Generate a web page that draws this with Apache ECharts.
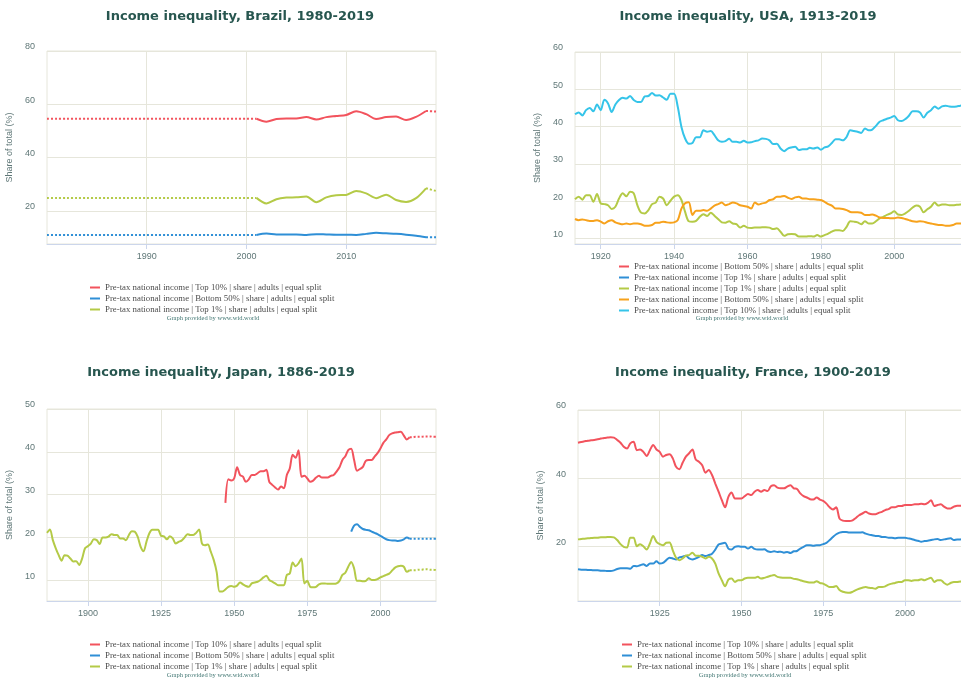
<!DOCTYPE html>
<html>
<head>
<meta charset="utf-8">
<title>Income inequality</title>
<script src="https://cdn.jsdelivr.net/npm/echarts@6/dist/echarts.min.js"></script>
<style>
  body { margin: 0; background: #fff; }
  .panel { position: absolute; width: 480px; height: 340px; }
</style>
</head>
<body>
<div id="brazil" class="panel" style="left:0;top:0;"></div>
<div id="usa" class="panel" style="left:480px;top:0;width:481px;"></div>
<div id="japan" class="panel" style="left:0;top:340px;"></div>
<div id="france" class="panel" style="left:480px;top:340px;width:481px;"></div>
<script>
// share of pre-tax national income (%), one value per year from *Start

const TOP10 = 'Pre-tax national income | Top 10% | share | adults | equal split';
const BOTTOM50 = 'Pre-tax national income | Bottom 50% | share | adults | equal split';
const TOP1 = 'Pre-tax national income | Top 1% | share | adults | equal split';
const CREDIT = 'Graph provided by www.wid.world';

// Brazil 1980-2019 (solid 2001-2018, dotted outside)
const brazilStart = 1980;
const brazilTop10 = [
  54.6, 54.6, 54.6, 54.6, 54.6, 54.6, 54.6, 54.6, 54.6, 54.6,
  54.6, 54.6, 54.6, 54.6, 54.6, 54.6, 54.6, 54.6, 54.6, 54.6,
  54.6, 54.6, 53.5, 54.5, 54.7, 54.7, 55.2, 54.3, 55.2, 55.6,
  56.0, 57.4, 56.3, 54.5, 55.2, 55.4, 54.1, 55.3, 57.5, 57.3
];
const brazilBottom50 = [
  11.0, 11.0, 11.0, 11.0, 11.0, 11.0, 11.0, 11.0, 11.0, 11.0,
  11.0, 11.0, 11.0, 11.0, 11.0, 11.0, 11.0, 11.0, 11.0, 11.0,
  11.0, 11.0, 11.5, 11.2, 11.2, 11.2, 11.0, 11.3, 11.2, 11.1,
  11.1, 11.0, 11.4, 11.8, 11.6, 11.4, 11.1, 10.7, 10.1, 10.1
];
const brazilTop1 = [
  24.9, 24.9, 24.9, 24.9, 24.9, 24.9, 24.9, 24.9, 24.9, 24.9,
  24.9, 24.9, 24.9, 24.9, 24.9, 24.9, 24.9, 24.9, 24.9, 24.9,
  24.9, 24.9, 22.8, 24.4, 25.0, 25.1, 25.4, 23.3, 25.1, 25.9,
  26.0, 27.5, 26.6, 24.8, 26.1, 24.1, 23.4, 24.8, 28.5, 27.5
];

// USA 1913-2019
const usaStart = 1913;
const usaTop10 = [
  43.3, 43.8, 43.0, 44.4, 45.0, 44.1, 45.9,
  44.4, 47.2, 46.2, 43.9, 45.9, 47.1, 47.7, 47.5, 48.2, 47.1,
  46.6, 46.6, 48.1, 48.2, 49.0, 48.3, 48.4, 47.8, 47.2, 48.8,
  48.8, 45.3, 39.9, 36.8, 35.4, 35.6, 37.1, 37.1, 39.0, 38.6,
  38.8, 37.7, 36.3, 35.9, 36.1, 36.7, 35.9, 35.9, 35.7, 36.2,
  35.7, 35.8, 36.1, 36.3, 36.8, 36.7, 36.3, 35.3, 35.4, 34.1,
  33.4, 34.1, 34.4, 34.6, 33.7, 33.9, 33.9, 34.3, 34.1, 34.4,
  33.8, 34.4, 34.7, 35.6, 36.6, 36.6, 36.3, 37.2, 39.0, 38.8,
  38.6, 38.3, 39.5, 39.0, 39.2, 40.2, 41.3, 41.7, 42.1, 42.4,
  42.8, 41.7, 41.5, 42.0, 42.9, 44.1, 44.1, 43.8, 42.4, 43.7,
  44.4, 45.4, 44.8, 45.4, 45.6, 45.4, 45.3, 45.4, 45.6, 45.7
];
const usaTop1 = [
  20.5, 21.2, 20.4, 21.6, 21.6, 19.8, 21.9,
  19.4, 19.2, 18.9, 17.9, 18.5, 20.7, 22.1, 21.3, 22.5, 22.1,
  18.9, 16.9, 16.7, 17.6, 19.2, 19.6, 21.2, 20.7, 18.9, 20.1,
  21.2, 21.6, 20.3, 17.1, 14.6, 14.5, 14.7, 15.8, 16.5, 16.0,
  16.9, 16.1, 15.2, 14.3, 14.2, 14.6, 14.0, 13.8, 12.9, 13.4,
  12.9, 12.8, 12.9, 12.9, 13.0, 13.0, 12.9, 12.5, 12.7, 11.8,
  10.7, 11.1, 11.2, 11.1, 10.5, 10.5, 10.5, 10.6, 10.5, 10.9,
  10.5, 10.9, 11.3, 11.8, 12.2, 12.2, 12.0, 13.1, 14.6, 14.5,
  14.3, 13.8, 14.6, 14.0, 14.0, 14.6, 15.4, 15.8, 16.3, 16.7,
  17.3, 16.4, 16.3, 16.7, 17.4, 18.3, 18.8, 18.5, 17.0, 17.8,
  18.5, 19.6, 18.8, 19.1, 19.1, 18.9, 18.9, 19.0, 19.1, 19.2
];
const usaBottom50 = [
  15.2, 14.9, 15.1, 14.9, 14.7, 14.7, 14.9,
  14.5, 14.0, 14.6, 14.9, 14.3, 14.0, 13.8, 14.0, 13.8, 14.0,
  14.0, 13.8, 13.4, 13.4, 13.6, 14.2, 14.2, 14.5, 14.3, 14.2,
  14.3, 14.9, 18.0, 19.4, 19.7, 16.3, 17.4, 17.4, 17.6, 17.4,
  18.0, 18.8, 19.2, 19.6, 18.9, 19.2, 19.6, 19.4, 18.9, 18.7,
  18.5, 18.0, 19.6, 19.1, 19.4, 19.6, 20.3, 20.5, 21.2, 21.2,
  21.4, 20.9, 20.6, 21.0, 21.2, 20.7, 20.7, 20.5, 20.5, 20.4,
  20.3, 19.8, 19.2, 18.8, 18.0, 18.0, 17.9, 17.6, 17.1, 17.0,
  17.0, 16.9, 16.3, 16.3, 16.4, 16.1, 15.6, 15.5, 15.5, 15.4,
  15.4, 15.6, 15.5, 15.2, 14.9, 14.6, 14.5, 14.6, 14.5, 14.2,
  14.0, 13.8, 13.6, 13.6, 13.4, 13.4, 13.6, 14.0, 14.0, 13.9
];

// Japan (solid up to 2010, dotted after)
const japanTop1Start = 1886;
const japanTop1 = [
  21.1, 21.9, 19.4, 17.5,
  15.9, 14.6, 15.9, 15.8, 15.1, 14.4, 14.5, 13.6, 15.1, 17.5,
  18.0, 18.6, 19.6, 19.4, 18.5, 20.0, 20.0, 20.2, 20.8, 20.6,
  20.6, 19.8, 19.8, 19.4, 20.6, 21.5, 21.4, 20.2, 17.9, 16.8,
  19.0, 21.0, 21.8, 21.8, 21.8, 20.4, 20.3, 19.6, 20.3, 19.8,
  18.6, 19.0, 19.3, 20.0, 20.8, 20.6, 20.6, 21.1, 21.9, 18.6,
  18.2, 18.4, 16.7, 14.8, 12.0, 7.4, 7.4, 7.9, 8.5, 8.7,
  8.5, 8.8, 9.5, 9.1, 8.7, 8.5, 9.3, 9.5, 9.7, 10.1,
  10.7, 11.1, 10.1, 9.7, 9.3, 8.9, 8.9, 8.9, 11.3, 11.6,
  14.2, 13.3, 14.0, 15.1, 9.3, 9.9, 8.5, 8.4, 8.5, 9.1,
  9.3, 9.3, 9.2, 9.2, 9.2, 9.3, 9.9, 11.3, 11.8, 13.2,
  14.3, 12.8, 9.9, 9.9, 9.8, 9.9, 10.5, 10.1, 10.1, 10.3,
  10.7, 11.0, 11.3, 11.6, 12.3, 13.0, 13.3, 13.4, 13.2, 12.0,
  12.4, 12.4, 12.4, 12.5, 12.5, 12.6, 12.6, 12.5, 12.5, 12.4
];
const japanTop10Start = 1947;
const japanTop10 = [
  28.1, 33.6, 33.3,
  33.8, 36.4, 34.6, 34.2, 33.0, 33.6, 34.6, 34.6, 35.0, 35.5,
  35.5, 35.8, 33.0, 32.3, 31.7, 31.2, 31.9, 31.5, 34.6, 36.1,
  39.3, 38.6, 40.4, 34.2, 34.4, 33.8, 33.0, 33.3, 34.0, 34.4,
  34.0, 34.0, 34.0, 34.4, 34.6, 35.4, 36.4, 38.1, 39.0, 40.4,
  40.7, 38.1, 35.6, 36.0, 36.5, 37.9, 38.1, 38.1, 38.9, 39.7,
  40.8, 42.1, 42.9, 43.9, 44.3, 44.5, 44.6, 44.7, 43.8, 42.9,
  43.4, 43.4, 43.5, 43.5, 43.5, 43.6, 43.6, 43.6, 43.5, 43.5
];
const japanBottom50Start = 1990;
const japanBottom50 = [
  21.4, 22.8, 23.1, 22.5, 22.0, 21.8, 21.7, 21.4, 21.1, 20.8,
  20.4, 20.0, 19.6, 19.4, 19.3, 19.3, 19.2, 19.3, 19.6, 20.0,
  19.7, 19.7, 19.7, 19.7, 19.7, 19.7, 19.7, 19.7, 19.7, 19.7
];

// France 1900-2019
const franceStart = 1900;
const franceTop10 = [
  50.4, 50.6, 50.8, 51.0, 51.1, 51.2, 51.4, 51.6, 51.8, 51.9,
  52.0, 51.9, 51.2, 50.4, 49.2, 48.7, 50.2, 50.7, 48.2, 48.4,
  47.7, 46.5, 48.2, 49.7, 48.4, 47.7, 46.3, 46.8, 47.0, 45.8,
  43.3, 42.6, 44.5, 46.3, 47.3, 48.4, 45.5, 44.8, 43.8, 41.6,
  42.4, 40.9, 38.4, 36.0, 33.5, 31.4, 34.5, 35.8, 34.0, 34.0,
  34.0, 34.7, 35.3, 35.0, 36.0, 36.5, 36.0, 36.5, 36.2, 37.6,
  37.9, 37.2, 37.0, 37.0, 37.5, 37.9, 37.0, 36.8, 35.5, 34.7,
  34.3, 33.8, 33.7, 34.3, 33.7, 33.3, 32.5, 31.4, 30.8, 31.4,
  28.1, 27.5, 27.4, 27.4, 27.6, 28.3, 29.1, 29.6, 30.1, 29.6,
  29.4, 29.4, 29.8, 30.1, 30.6, 30.9, 31.4, 31.4, 31.8, 31.8,
  32.1, 32.1, 32.1, 32.3, 32.3, 32.5, 32.3, 32.7, 33.5, 31.8,
  32.1, 32.3, 31.6, 31.1, 31.1, 31.6, 31.9, 31.9, 31.9, 32.0
];
const franceBottom50 = [
  13.2, 13.1, 13.1, 13.0, 13.0, 12.9, 12.9, 12.8, 12.8, 12.7,
  12.7, 12.9, 13.3, 13.5, 13.5, 13.5, 13.4, 14.2, 14.1, 14.4,
  14.7, 14.2, 14.9, 14.9, 15.6, 14.9, 15.1, 15.9, 16.6, 16.4,
  16.1, 16.7, 16.9, 17.2, 16.4, 16.1, 16.4, 16.9, 17.4, 17.1,
  17.4, 17.8, 19.0, 20.5, 20.8, 21.0, 19.3, 19.0, 19.8, 20.0,
  19.8, 19.8, 19.3, 19.8, 19.2, 19.0, 19.0, 19.1, 18.5, 18.3,
  18.5, 18.3, 18.4, 18.1, 18.3, 18.0, 18.5, 18.6, 19.3, 19.8,
  20.3, 20.3, 20.1, 20.3, 20.3, 20.6, 21.0, 21.8, 22.7, 23.5,
  24.0, 24.2, 24.2, 24.0, 24.0, 24.0, 24.0, 24.1, 23.7, 23.4,
  23.2, 23.0, 23.0, 22.7, 22.7, 22.5, 22.5, 22.3, 22.5, 22.5,
  22.5, 22.3, 22.1, 21.8, 21.6, 21.3, 21.5, 21.6, 21.8, 22.0,
  22.1, 21.8, 22.0, 22.2, 22.3, 21.8, 22.0, 22.0, 22.1, 22.0
];
const franceTop1 = [
  22.0, 22.1, 22.2, 22.3, 22.4, 22.5, 22.5, 22.6, 22.6, 22.7,
  22.7, 22.6, 21.8, 20.6, 19.8, 19.6, 22.5, 22.5, 20.0, 20.6,
  20.0, 19.0, 20.8, 23.0, 21.3, 20.6, 20.3, 21.0, 21.1, 18.8,
  16.6, 15.9, 16.4, 17.2, 17.4, 18.1, 17.2, 17.2, 16.9, 16.4,
  16.9, 16.4, 14.9, 12.0, 10.0, 8.2, 10.2, 10.5, 9.5, 10.0,
  10.0, 10.5, 10.7, 10.7, 10.7, 11.0, 10.5, 10.7, 11.0, 11.3,
  11.5, 11.0, 10.8, 10.7, 10.7, 10.7, 10.4, 10.3, 10.0, 9.7,
  9.5, 9.3, 9.3, 9.7, 9.2, 9.0, 8.5, 8.0, 8.0, 8.3,
  7.1, 6.6, 6.4, 6.3, 6.6, 7.1, 7.5, 7.8, 8.0, 7.8,
  7.7, 7.5, 8.0, 8.0, 8.2, 8.7, 9.0, 9.2, 9.5, 9.5,
  10.0, 10.0, 9.8, 10.0, 10.0, 10.3, 10.0, 10.4, 10.7, 9.5,
  10.0, 10.0, 9.2, 8.7, 9.2, 9.5, 9.5, 9.6, 9.5, 9.6
];

// axis ticks
const brazilYears = [1990, 2000, 2010];
const brazilShares = [20, 40, 60, 80];
const usaYears = [1920, 1940, 1960, 1980, 2000];
const usaShares = [10, 20, 30, 40, 50, 60];
const japanYears = [1900, 1925, 1950, 1975, 2000];
const japanShares = [10, 20, 30, 40, 50];
const franceYears = [1925, 1950, 1975, 2000];
const franceShares = [20, 40, 60];

const RED = '#f2535d';
const BLUE = '#2f8fd6';
const GREEN = '#b4ca47';
const ORANGE = '#f7a21c';
const CYAN = '#35c4e9';
const GRID_COLOR = '#e6e6db';
const AXIS_COLOR = '#ccd6eb';
const LABEL_COLOR = '#5f7777';

function toPairs(start, values, from, to) {
  const out = [];
  values.forEach((v, i) => {
    const year = start + i;
    if (year >= from && year <= to) out.push([year, v]);
  });
  return out;
}

function lineSeries(name, color, data, dotted) {
  return {
    name: name,
    type: 'line',
    data: data,
    smooth: 0.3,
    symbol: 'none',
    silent: true,
    emphasis: {disabled: true},
    itemStyle: {color: color},
    lineStyle: {color: color, width: 2, type: dotted ? [2, 2] : 'solid'}
  };
}

function buildSeries(lines) {
  const series = [];
  lines.forEach(l => {
    const end = l.start + l.values.length - 1;
    const solidFrom = l.solidFrom || l.start;
    const solidTo = l.solidTo || end;
    series.push(lineSeries(l.name, l.color, toPairs(l.start, l.values, solidFrom, solidTo), false));
    if (solidFrom > l.start) {
      series.push(lineSeries(l.name + ' est-a', l.color, toPairs(l.start, l.values, l.start, solidFrom), true));
    }
    if (solidTo < end) {
      series.push(lineSeries(l.name + ' est-b', l.color, toPairs(l.start, l.values, solidTo, end), true));
    }
  });
  return series;
}

function makeOption(c) {
  const labelFont = {fontFamily: 'Liberation Sans', fontSize: 9, color: LABEL_COLOR};
  return {
    animation: false,
    title: {
      text: c.title,
      left: c.titleX,
      top: c.titleY,
      textAlign: 'center',
      padding: 0,
      textStyle: {fontFamily: 'DejaVu Sans', fontWeight: 'bold', fontSize: 13, color: '#27564f'}
    },
    grid: Object.assign({show: true, borderColor: GRID_COLOR, borderWidth: 1, outerBoundsMode: 'none'}, c.grid),
    xAxis: {
      type: 'value',
      min: c.xMin,
      max: c.xMax,
      axisLine: {show: true, onZero: false, lineStyle: {color: AXIS_COLOR, width: 1}},
      axisTick: {show: true, length: 5, customValues: c.xTicks, lineStyle: {color: AXIS_COLOR}},
      axisLabel: Object.assign({customValues: c.xTicks, margin: 8, formatter: v => String(v)}, labelFont),
      splitLine: {show: true, lineStyle: {color: GRID_COLOR, width: 1}}
    },
    yAxis: {
      type: 'value',
      min: c.yMin,
      max: c.yMax,
      name: 'Share of total (%)',
      nameLocation: 'middle',
      nameGap: 32,
      nameTextStyle: labelFont,
      axisLine: {show: false},
      axisTick: {show: false, customValues: c.yTicks},
      axisLabel: Object.assign({customValues: c.yTicks, margin: 12, verticalAlign: 'bottom', lineHeight: 8}, labelFont),
      splitLine: {show: true, lineStyle: {color: GRID_COLOR, width: 1}}
    },
    legend: {
      orient: 'vertical',
      left: c.legendX,
      top: c.legendY,
      padding: 0,
      icon: 'rect',
      itemWidth: 10,
      itemHeight: 2,
      itemGap: 2,
      selectedMode: false,
      data: c.lines.map(l => l.name),
      textStyle: {fontFamily: 'Liberation Serif', fontSize: 8.8, color: '#4d4d4d'}
    },
    graphic: [{
      type: 'text',
      x: c.creditX,
      y: c.creditY,
      style: {
        text: CREDIT,
        fill: '#3e7470',
        font: '6.5px "Liberation Serif"',
        align: 'center',
        verticalAlign: 'middle',
        textAlign: 'center',
        textVerticalAlign: 'middle'
      }
    }],
    series: buildSeries(c.lines)
  };
}

const charts = [
  {
    id: 'brazil',
    title: 'Income inequality, Brazil, 1980-2019',
    titleX: 240, titleY: 10,
    grid: {left: 47, right: 44, top: 51, bottom: 96},
    xMin: 1980, xMax: 2019, xTicks: brazilYears,
    yMin: 7.6, yMax: 80, yTicks: brazilShares,
    legendX: 90, legendY: 283,
    creditX: 213, creditY: 318,
    lines: [
      {name: TOP10, color: RED, start: brazilStart, values: brazilTop10, solidFrom: 2001, solidTo: 2018},
      {name: BOTTOM50, color: BLUE, start: brazilStart, values: brazilBottom50, solidFrom: 2001, solidTo: 2018},
      {name: TOP1, color: GREEN, start: brazilStart, values: brazilTop1, solidFrom: 2001, solidTo: 2018}
    ]
  },
  {
    id: 'usa',
    title: 'Income inequality, USA, 1913-2019',
    titleX: 268, titleY: 10,
    grid: {left: 95, right: -3, top: 52, bottom: 96},
    xMin: 1913, xMax: 2019, xTicks: usaYears,
    yMin: 8.5, yMax: 60, yTicks: usaShares,
    legendX: 139, legendY: 262,
    creditX: 262, creditY: 318,
    lines: [
      {name: BOTTOM50, color: RED, start: usaStart, values: []},
      {name: TOP1, color: BLUE, start: usaStart, values: []},
      {name: TOP1 + ' ', color: GREEN, start: usaStart, values: usaTop1},
      {name: BOTTOM50 + ' ', color: ORANGE, start: usaStart, values: usaBottom50},
      {name: TOP10, color: CYAN, start: usaStart, values: usaTop10}
    ]
  },
  {
    id: 'japan',
    title: 'Income inequality, Japan, 1886-2019',
    titleX: 221, titleY: 26,
    grid: {left: 47, right: 44, top: 69, bottom: 79},
    xMin: 1886, xMax: 2019, xTicks: japanYears,
    yMin: 5.2, yMax: 50, yTicks: japanShares,
    legendX: 90, legendY: 300,
    creditX: 213, creditY: 335,
    lines: [
      {name: TOP10, color: RED, start: japanTop10Start, values: japanTop10, solidTo: 2010},
      {name: BOTTOM50, color: BLUE, start: japanBottom50Start, values: japanBottom50, solidTo: 2010},
      {name: TOP1, color: GREEN, start: japanTop1Start, values: japanTop1, solidTo: 2010}
    ]
  },
  {
    id: 'france',
    title: 'Income inequality, France, 1900-2019',
    titleX: 273, titleY: 26,
    grid: {left: 98, right: -6, top: 70, bottom: 79},
    xMin: 1900, xMax: 2019, xTicks: franceYears,
    yMin: 3.9, yMax: 60, yTicks: franceShares,
    legendX: 142, legendY: 300,
    creditX: 265, creditY: 335,
    lines: [
      {name: TOP10, color: RED, start: franceStart, values: franceTop10},
      {name: BOTTOM50, color: BLUE, start: franceStart, values: franceBottom50},
      {name: TOP1, color: GREEN, start: franceStart, values: franceTop1}
    ]
  }
];

charts.forEach(c => {
  const chart = echarts.init(document.getElementById(c.id), null, {renderer: 'canvas'});
  chart.setOption(makeOption(c));
});
</script>
</body>
</html>
